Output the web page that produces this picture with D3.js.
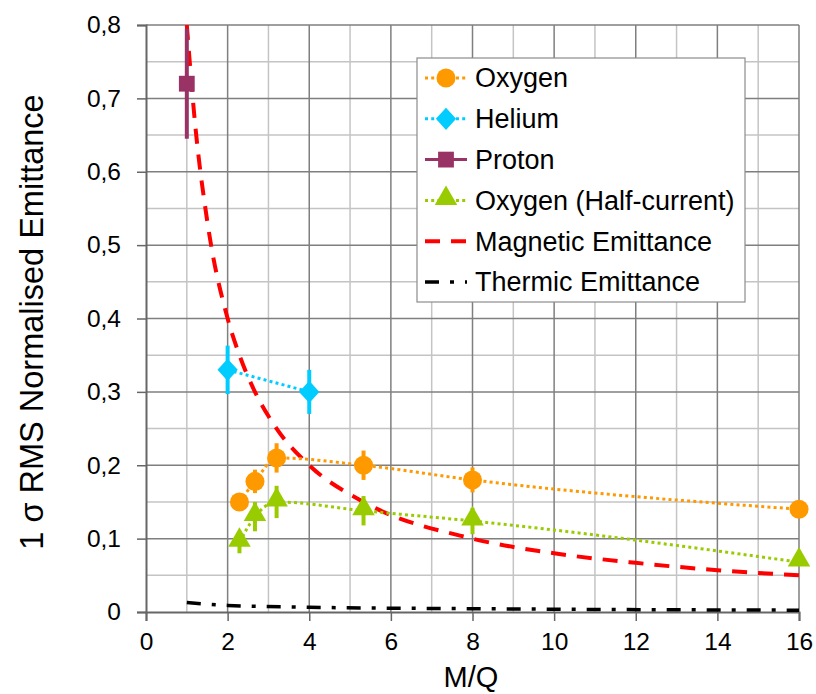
<html>
<head>
<script src="https://d3js.org/d3.v7.min.js"></script>
<style>
body { margin:0; background:#fff; }
text { font-family: "Liberation Sans", Arial, sans-serif; fill:#000; }
</style>
</head>
<body>
<script>
// M/Q values and measured emittances
var mqOxygen = [2.29, 2.67, 3.2, 5.33, 8, 16];
var oxygen = [0.15, 0.178, 0.21, 0.20, 0.18, 0.14];
var oxygenErr = [0.012, 0.016, 0.02, 0.02, 0.017, 0];
var oxygenHalf = [0.095, 0.13, 0.15, 0.138, 0.124, 0.068];
var oxygenHalfErr = [0.015, 0.02, 0.022, 0.02, 0.018, 0];
var mqHelium = [2, 4];
var helium = [0.33, 0.30];
var heliumErr = [0.033, 0.03];
var mqProton = [1];
var proton = [0.72];
var protonErr = [0.075];
var mqMagnetic = [1, 1.2, 1.5, 2, 2.29, 2.67, 3.2, 4, 5.33, 8, 10, 12, 14, 16];
var magnetic = [0.8, 0.667, 0.533, 0.4, 0.35, 0.3, 0.25, 0.2, 0.15, 0.1, 0.08, 0.067, 0.057, 0.05];
var mqThermic = [1, 2, 4, 8, 16];
var thermic = [0.013, 0.009, 0.0065, 0.0045, 0.0025];
var legendLabels = ["Oxygen", "Helium", "Proton", "Oxygen (Half-current)", "Magnetic Emittance", "Thermic Emittance"];

var width = 816, height = 694;
var margin = {top:25, right:17, bottom:82, left:146};
var w = width - margin.left - margin.right;
var h = height - margin.top - margin.bottom;

var x = d3.scaleLinear().domain([0,16]).range([0,w]);
var y = d3.scaleLinear().domain([0,0.8]).range([h,0]);

var svg = d3.select("body").append("svg")
    .attr("width", width)
    .attr("height", height);
var g = svg.append("g")
    .attr("transform", "translate(" + margin.left + "," + margin.top + ")");

// grid
var grid = g.append("g");
grid.selectAll(".vmin").data(d3.range(1,17,2)).enter().append("line")
  .attr("x1", x).attr("x2", x).attr("y1", 0).attr("y2", h)
  .attr("stroke", "#c4c4c4").attr("stroke-width", 1.5);
grid.selectAll(".hmin").data(d3.range(1,17,2).map(function(d){ return d*0.05; })).enter().append("line")
  .attr("y1", y).attr("y2", y).attr("x1", 0).attr("x2", w)
  .attr("stroke", "#c4c4c4").attr("stroke-width", 1.5);
grid.selectAll(".vmaj").data(d3.range(2,17,2)).enter().append("line")
  .attr("x1", x).attr("x2", x).attr("y1", 0).attr("y2", h)
  .attr("stroke", "#7f7f7f").attr("stroke-width", 1.5);
grid.selectAll(".hmaj").data(d3.range(1,9).map(function(d){ return d*0.1; })).enter().append("line")
  .attr("y1", y).attr("y2", y).attr("x1", 0).attr("x2", w)
  .attr("stroke", "#7f7f7f").attr("stroke-width", 1.5);

// axes
var yAxis = d3.axisLeft(y).tickValues(d3.range(0,9).map(function(d){ return d/10; }))
    .tickSize(9).tickPadding(16)
    .tickFormat(function(d){ return d === 0 ? "0" : d3.format(".1f")(d).replace(".", ","); });
var gy = g.append("g").call(yAxis);
var xAxis = d3.axisBottom(x).tickValues(d3.range(0,17,2)).tickSize(9).tickPadding(12);
var gx = g.append("g").attr("transform", "translate(0," + h + ")").call(xAxis);
[gx, gy].forEach(function(a){
  a.select(".domain").attr("stroke", "#666").attr("stroke-width", 2);
  a.selectAll(".tick line").attr("stroke", "#666").attr("stroke-width", 1.5);
  a.selectAll("text").attr("font-size", 24.5).attr("font-family", "Liberation Sans, Arial, sans-serif").attr("fill", "#000");
});

svg.append("text")
  .attr("x", 471).attr("y", 687)
  .attr("text-anchor", "middle")
  .attr("font-size", 29)
  .text("M/Q");
svg.append("text")
  .attr("transform", "translate(43,322) rotate(-90)")
  .attr("text-anchor", "middle")
  .attr("font-size", 32.5)
  .text("1 σ RMS Normalised Emittance");

g.append("clipPath").attr("id", "clip").append("rect")
  .attr("x", -20).attr("y", 0).attr("width", w + 40).attr("height", h + 20);
var plot = g.append("g").attr("clip-path", "url(#clip)");

function pts(xs, ys, es) {
  return xs.map(function(d, i){ return {x: d, y: ys[i], e: es ? es[i] : 0}; });
}
var line = d3.line().x(function(d){ return x(d.x); }).y(function(d){ return y(d.y); })
  .curve(d3.curveMonotoneX);

// markers: shape, size and extra transform
var series = [
  {name: legendLabels[0], data: pts(mqOxygen, oxygen, oxygenErr), color: "#ff9900", dash: "3 3.2", lw: 3, sym: d3.symbolCircle, size: 285, tf: ""},
  {name: legendLabels[1], data: pts(mqHelium, helium, heliumErr), color: "#00ccff", dash: "3 3.2", lw: 3, sym: d3.symbolSquare, size: 205, tf: " scale(1,1.1) rotate(45)"},
  {name: legendLabels[2], data: pts(mqProton, proton, protonErr), color: "#993366", dash: null, lw: 3, sym: d3.symbolSquare, size: 250, tf: ""},
  {name: legendLabels[3], data: pts(mqOxygen, oxygenHalf, oxygenHalfErr), color: "#99cc00", dash: "3 3.2", lw: 3, sym: d3.symbolTriangle, size: 220, tf: " translate(0,-2)"},
  {name: legendLabels[4], data: pts(mqMagnetic, magnetic), color: "#ff0000", dash: "15 11", lw: 4, sym: null},
  {name: legendLabels[5], data: pts(mqThermic, thermic), color: "#000000", dash: "14 11 4 11", lw: 3.5, sym: null}
];

// lines
series.slice().reverse().forEach(function(s){
  plot.append("path").datum(s.data)
    .attr("d", line)
    .attr("fill", "none")
    .attr("stroke", s.color)
    .attr("stroke-width", s.lw)
    .attr("stroke-dasharray", s.dash);
});

// error bars and markers
series.forEach(function(s){
  if (!s.sym) return;
  plot.selectAll(null).data(s.data.filter(function(d){ return d.e > 0; })).enter().append("line")
    .attr("x1", function(d){ return x(d.x); }).attr("x2", function(d){ return x(d.x); })
    .attr("y1", function(d){ return y(d.y - d.e); }).attr("y2", function(d){ return y(d.y + d.e); })
    .attr("stroke", s.color).attr("stroke-width", 4);
  plot.selectAll(null).data(s.data).enter().append("path")
    .attr("d", d3.symbol().type(s.sym).size(s.size))
    .attr("transform", function(d){
      return "translate(" + x(d.x) + "," + y(d.y) + ")" + s.tf;
    })
    .attr("fill", s.color);
});

// legend
var lg = svg.append("g").attr("transform", "translate(417,58)");
lg.append("rect").attr("width", 328).attr("height", 244)
  .attr("fill", "#fff").attr("stroke", "#8c8c8c").attr("stroke-width", 1.2);
var item = lg.selectAll(".item").data(series).enter().append("g")
  .attr("transform", function(d, i){ return "translate(0," + (20 + i * 40.8) + ")"; });
item.append("line")
  .attr("x1", 8).attr("x2", 50).attr("y1", 0).attr("y2", 0)
  .attr("stroke", function(d){ return d.color; })
  .attr("stroke-width", function(d){ return d.lw; })
  .attr("stroke-dasharray", function(d){ return d.dash; });
item.filter(function(d){ return d.sym; }).append("path")
  .attr("d", function(d){ return d3.symbol().type(d.sym).size(d.size)(); })
  .attr("transform", function(d){ return "translate(29,0)" + d.tf; })
  .attr("fill", function(d){ return d.color; });
item.append("text")
  .attr("x", 58).attr("y", 0).attr("dy", "0.35em")
  .attr("font-size", 27)
  .attr("textLength", null)
  .text(function(d){ return d.name; });
</script>
</body>
</html>
